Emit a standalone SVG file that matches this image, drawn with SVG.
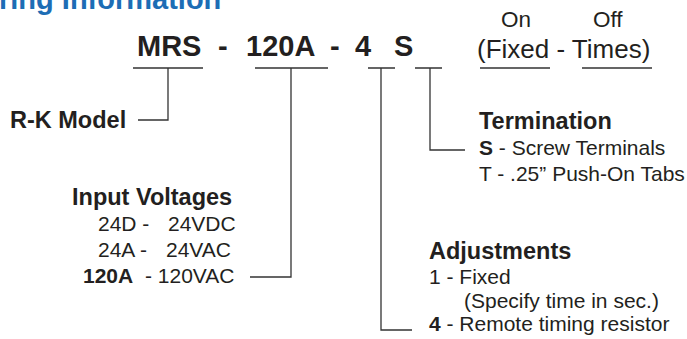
<svg xmlns="http://www.w3.org/2000/svg" width="687" height="339" viewBox="0 0 687 339">
<style>
.t{font-family:"Liberation Sans",Arial,Helvetica,sans-serif;fill:#231f20}
.b{font-weight:bold}
.code{font-size:29px;font-weight:bold}
.hd{font-size:23.5px;font-weight:bold}
.bd{font-size:21px}
.ln{fill:none;stroke:#333;stroke-width:1.3}
</style>
<rect width="687" height="339" fill="#fff"/>
<text id="title" class="t b" x="-1" y="9" style="font-size:29px;fill:#1d6db5">ring Information</text>
<g id="code">
<text class="t code" y="56"><tspan x="137">MRS</tspan><tspan x="218">-</tspan><tspan x="246">120A</tspan><tspan x="330">-</tspan><tspan x="355">4</tspan><tspan x="394">S</tspan></text>
</g>
<g id="times">
<text class="t" x="501" y="27" style="font-size:22.5px">On</text>
<text class="t" x="593" y="27" style="font-size:22.5px">Off</text>
<text class="t" x="477" y="58" style="font-size:26px">(Fixed - Times)</text>
</g>
<g id="rk-model"><text class="t hd" x="10" y="128">R-K Model</text></g>
<g id="input-voltages">
<text class="t hd" x="72" y="205">Input Voltages</text>
<text class="t bd" x="98" y="231">24D -</text><text class="t bd" x="168" y="231">24VDC</text>
<text class="t bd" x="98" y="257">24A -</text><text class="t bd" x="166" y="257">24VAC</text>
<text class="t bd" x="83" y="283"><tspan class="b">120A</tspan><tspan x="145">- 120VAC</tspan></text>
</g>
<g id="termination">
<text class="t hd" x="479" y="129">Termination</text>
<text class="t bd" x="479" y="155"><tspan class="b">S</tspan> - Screw Terminals</text>
<text class="t bd" x="479" y="181">T - .25” Push-On Tabs</text>
</g>
<g id="adjustments">
<text class="t hd" x="429" y="259">Adjustments</text>
<text class="t bd" x="429" y="284">1 - Fixed</text>
<text class="t bd" x="464" y="308">(Specify time in sec.)</text>
<text class="t bd" x="429" y="331"><tspan class="b">4</tspan> - Remote timing resistor</text>
</g>
<g id="connectors">
<path class="ln" d="M133 68H203M255 68H328M368 68H395M415 68H442M480 68H550M582 68H652"/>
<path class="ln" d="M168 68V120H138"/>
<path class="ln" d="M291 68V277H250"/>
<path class="ln" d="M381 68V330H412"/>
<path class="ln" d="M430 68V150H465"/>
</g>
</svg>
